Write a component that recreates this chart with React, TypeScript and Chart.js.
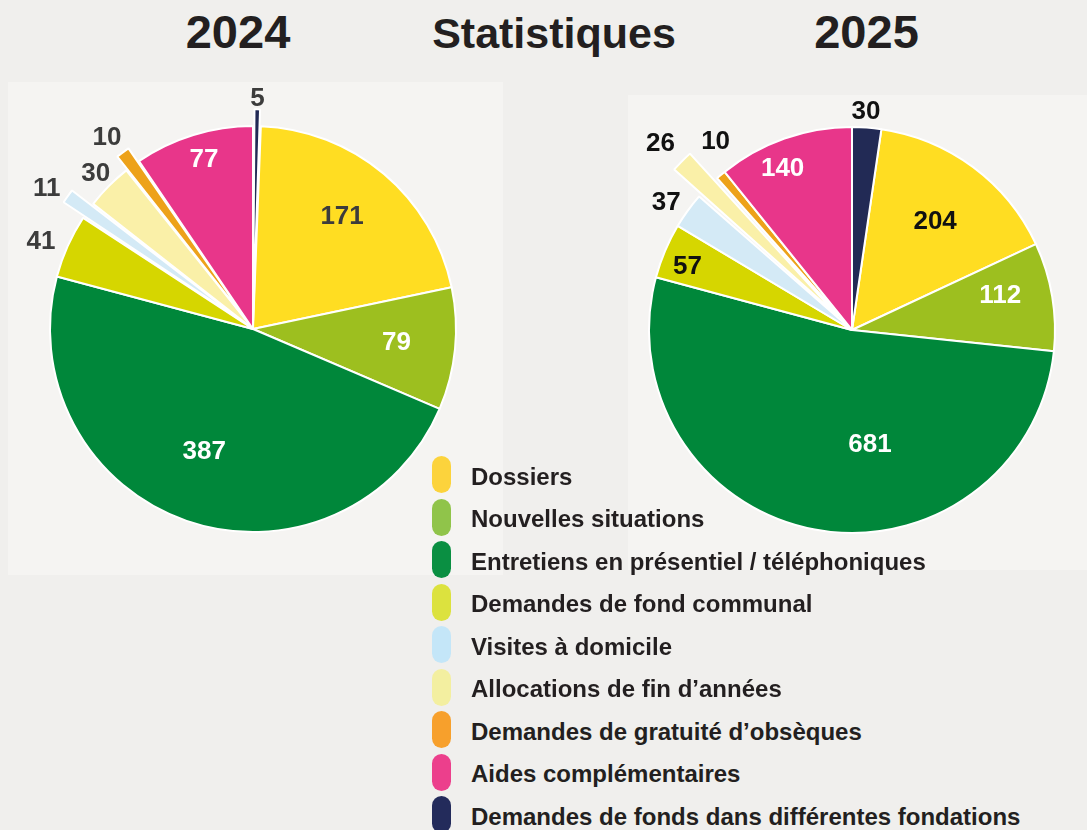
import React, { useEffect, useRef } from "react";
import { Chart, registerables } from "chart.js";

Chart.register(...registerables);

// ---------- data ----------
const categories = [
  "Dossiers",
  "Nouvelles situations",
  "Entretiens en présentiel / téléphoniques",
  "Demandes de fond communal",
  "Visites à domicile",
  "Allocations de fin d’années",
  "Demandes de gratuité d’obsèques",
  "Aides complémentaires",
  "Demandes de fonds dans différentes fondations",
];
const values2024 = [171, 79, 387, 41, 11, 30, 10, 77, 5];
const values2025 = [204, 112, 681, 57, 37, 26, 10, 140, 30];
const titleLeft = "2024";
const titleMain = "Statistiques";
const titleRight = "2025";

// ---------- styles ----------
const sliceColors = ["#ffdd22", "#9dbf1f", "#00873a", "#d6d600", "#d4eaf6", "#faf0a8", "#eda21a", "#e8368a", "#222a55"];
const legendColors = ["#fcd33c", "#90c44a", "#0a8f42", "#dce23e", "#c4e6f8", "#f3efa0", "#f7a02c", "#ec3f8c", "#232b5b"];
const offsets2024 = [0, 0, 0, 0, 52, 0, 34, 0, 34];
const offsets2025 = [0, 0, 0, 0, 0, 78, 0, 0, 0];
const labelColors2024 = ["#3c3c3c", "#fff", "#fff", "#3c3c3c", "#3c3c3c", "#3c3c3c", "#3c3c3c", "#fff", "#3c3c3c"];
const labelColors2025 = ["#111", "#fff", "#fff", "#111", "#111", "#111", "#111", "#fff", "#111"];
const labelRadius2024 = [0.71, 0.71, 0.645, 1.13, 1.23, 1.09, 1.19, 0.87, 1.14];
const labelShift2024 = [-2, -0.5, 2.8, -1.6, -1.3, 0, -0.8, 1, 0];
const labelRadius2025 = [0.675, 0.75, 0.57, 0.87, 1.11, 1.32, 1.15, 0.87, 1.08];
const labelShift2025 = [0.7, -3.8, -19.5, -1.7, -1.5, -0.4, 4.5, -3.7, -0.5];

const FONT = '"Liberation Sans", Arial, Helvetica, sans-serif';

const valueLabels = {
  id: "valueLabels",
  afterDatasetsDraw(chart: any, _args: any, opts: any) {
    const { ctx } = chart;
    const meta = chart.getDatasetMeta(0);
    const data = chart.data.datasets[0].data;
    ctx.save();
    ctx.font = `bold 26px ${FONT}`;
    ctx.textAlign = "center";
    ctx.textBaseline = "middle";
    meta.data.forEach((arc: any, i: number) => {
      const p = arc.getProps(["x", "y", "startAngle", "endAngle", "outerRadius"], true);
      const a = (p.startAngle + p.endAngle) / 2 + (opts.shift[i] * Math.PI) / 180;
      const r = p.outerRadius * opts.radius[i];
      ctx.fillStyle = opts.colors[i];
      ctx.fillText(String(data[i]), p.x + Math.cos(a) * r, p.y + Math.sin(a) * r + 1);
    });
    ctx.restore();
  },
};

function PieCanvas(props: {
  values: number[];
  offsets: number[];
  labelColors: string[];
  labelRadius: number[];
  labelShift: number[];
  left: number;
  top: number;
}) {
  const ref = useRef<HTMLCanvasElement | null>(null);
  useEffect(() => {
    if (!ref.current) return;
    const vals = props.values;
    const total = vals.reduce((s, v) => s + v, 0);
    const rotation = (vals[vals.length - 1] / total) * 360;
    const chart = new Chart(ref.current, {
      type: "pie",
      data: {
        labels: categories,
        datasets: [
          {
            data: vals,
            backgroundColor: sliceColors,
            borderColor: "#ffffff",
            borderWidth: 2,
            offset: props.offsets,
          },
        ],
      },
      options: {
        animation: false,
        responsive: false,
        maintainAspectRatio: false,
        devicePixelRatio: 1,
        rotation,
        radius: 203,
        layout: { padding: 0 },
        events: [],
        plugins: {
          legend: { display: false },
          tooltip: { enabled: false },
          valueLabels: {
            colors: props.labelColors,
            radius: props.labelRadius,
            shift: props.labelShift,
          },
        } as any,
      },
      plugins: [valueLabels as any],
    });
    return () => chart.destroy();
  }, []);
  return (
    <canvas
      ref={ref}
      width={600}
      height={600}
      style={{ position: "absolute", left: props.left, top: props.top, width: 600, height: 600 }}
    />
  );
}

export default function App() {
  useEffect(() => {
    document.body.style.margin = "0";
  }, []);
  const titleStyle = (cx: number, top: number, size: number): React.CSSProperties => ({
    position: "absolute",
    left: cx - 200,
    width: 400,
    top,
    textAlign: "center",
    fontFamily: FONT,
    fontWeight: "bold",
    fontSize: size,
    lineHeight: `${size}px`,
    color: "#231f20",
    whiteSpace: "nowrap",
  });
  return (
    <div
      style={{
        position: "fixed",
        left: 0,
        top: 0,
        width: 1087,
        height: 830,
        overflow: "hidden",
        background: "#f0efed",
        fontFamily: FONT,
      }}
    >
      <div style={{ position: "absolute", left: 8, top: 82, width: 495, height: 493, background: "#f5f4f2" }} />
      <div style={{ position: "absolute", left: 628, top: 95, width: 459, height: 475, background: "#f5f4f2" }} />

      <div style={titleStyle(238, 8, 47)}>{titleLeft}</div>
      <div style={titleStyle(554, 12, 43)}>{titleMain}</div>
      <div style={titleStyle(866.5, 8, 47)}>{titleRight}</div>

      <PieCanvas
        values={values2024}
        offsets={offsets2024}
        labelColors={labelColors2024}
        labelRadius={labelRadius2024}
        labelShift={labelShift2024}
        left={253 - 300}
        top={329 - 300}
      />
      <PieCanvas
        values={values2025}
        offsets={offsets2025}
        labelColors={labelColors2025}
        labelRadius={labelRadius2025}
        labelShift={labelShift2025}
        left={852 - 300}
        top={330 - 300}
      />

      {categories.map((c, i) => {
        const cy = 474.5 + 42.5 * i;
        return (
          <React.Fragment key={c}>
            <div
              style={{
                position: "absolute",
                left: 432,
                top: cy - 18.5,
                width: 19,
                height: 37,
                borderRadius: 10,
                background: legendColors[i],
              }}
            />
            <div
              style={{
                position: "absolute",
                left: 471,
                top: cy + 10.5 - 20.3,
                fontSize: 24,
                lineHeight: "24px",
                fontWeight: "bold",
                color: "#231f20",
                whiteSpace: "nowrap",
              }}
            >
              {c}
            </div>
          </React.Fragment>
        );
      })}
    </div>
  );
}
